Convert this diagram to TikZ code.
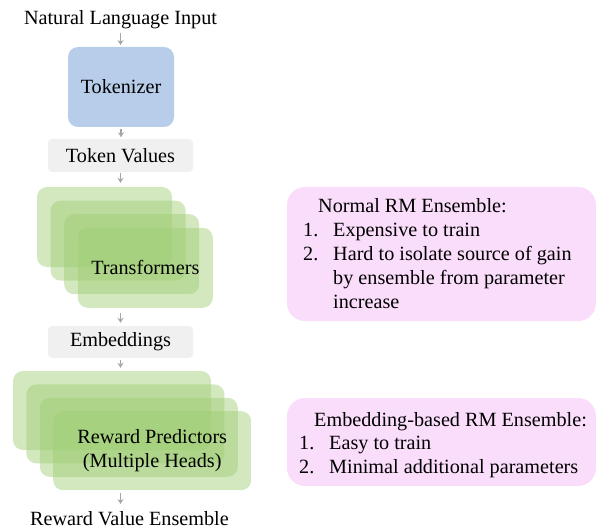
\documentclass[tikz,border=0pt]{standalone}
\usepackage{fontspec}
\setmainfont{Liberation Serif}
\usetikzlibrary{arrows.meta}
\definecolor{tokblue}{RGB}{184,205,233}
\definecolor{boxgray}{RGB}{240,240,240}
\definecolor{grn}{RGB}{157,204,113}
\definecolor{pinkbox}{RGB}{250,221,250}
\definecolor{arrgray}{RGB}{166,166,166}
\begin{document}
\begin{tikzpicture}[x=1pt,y=-1pt,
  every node/.style={font=\fontsize{20.2}{24}\selectfont, inner sep=0pt},
  tokbox/.style={fill=tokblue, rounded corners=10pt, minimum width=106pt, minimum height=80pt},
  graybox/.style={fill=boxgray, rounded corners=4pt, minimum width=145pt},
  layer/.style={fill=grn, fill opacity=0.45, text opacity=1, rounded corners=10pt},
  tlayer/.style={layer, minimum width=135pt, minimum height=80pt},
  rlayer/.style={layer, minimum width=198pt, minimum height=79pt},
  notebox/.style={fill=pinkbox, rounded corners=18pt, minimum width=309pt},
  arr/.style={draw=arrgray, line width=1.3pt, -{Stealth[length=5pt,width=6pt]}},
  txt/.style={anchor=base west}
]
\useasboundingbox (0,0) rectangle (596,529);

\node[anchor=base] (nli) at (120.5,25) {Natural Language Input};
\node[tokbox] (tok) at (121,87) {Tokenizer};
\node[graybox, minimum height=33pt] (tv) at (120.5,155.5) {Token Values};

\node[tlayer] (t1) at (104.5,227) {};
\node[tlayer] (t2) at (118.1,240.6) {};
\node[tlayer] (t3) at (131.7,254.2) {};
\node[tlayer] (t4) at (145.3,267.8) {Transformers};

\node[graybox, minimum height=32pt] (emb) at (120.5,342) {Embeddings};

\node[rlayer] (r1) at (112,410.5) {};
\node[rlayer] (r2) at (125.4,423.9) {};
\node[rlayer] (r3) at (138.8,437.3) {};
\node[rlayer, align=center] (r4) at (152.2,450.7) {Reward Predictors\\(Multiple Heads)};

\node[anchor=base] (rve) at (129.5,525.5) {Reward Value Ensemble};

\coordinate (a0) at (120.5,33);
\coordinate (a1) at (120.5,45);
\draw[arr] (a0) -- (a1);
\draw[arr, shorten <=1.5pt, shorten >=1.5pt] (tok.south) -- (tv.north -| tok.south);
\draw[arr, shorten <=1pt, shorten >=4pt] (tv.south) -- (tv.south |- t1.north);
\draw[arr, shorten <=5pt, shorten >=3pt] (emb.north |- t4.south) -- (emb.north);
\draw[arr, shorten <=2pt, shorten >=3pt] (emb.south) -- (emb.south |- r1.north);
\coordinate (b0) at (120.5,493);
\coordinate (b1) at (120.5,504);
\draw[arr] (b0) -- (b1);

\node[notebox, minimum height=134pt] (na) at (441.5,254) {};
\node[txt] (na0) at (318,213) {Normal RM Ensemble:};
\node[txt] (na1n) at (303,236.9) {1.};
\node[txt] (na1) at (333,236.9) {Expensive to train};
\node[txt] (na2n) at (303,260.8) {2.};
\node[txt] (na2) at (333,260.8) {Hard to isolate source of gain};
\node[txt] (na3) at (333,284.7) {by ensemble from parameter};
\node[txt] (na4) at (333,308.6) {increase};

\node[notebox, minimum height=88pt] (nb) at (441.5,442) {};
\node[txt] (nb0) at (314,426) {Embedding-based RM Ensemble:};
\node[txt] (nb1n) at (299,449.5) {1.};
\node[txt] (nb1) at (329,449.5) {Easy to train};
\node[txt] (nb2n) at (299,473) {2.};
\node[txt] (nb2) at (329,473) {Minimal additional parameters};
\end{tikzpicture}
\end{document}
